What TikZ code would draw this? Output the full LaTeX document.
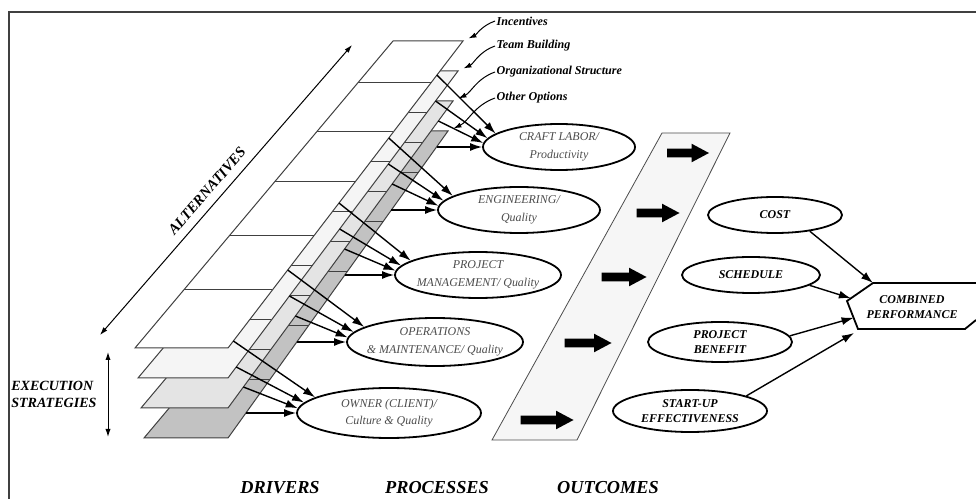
\documentclass[tikz,border=0pt]{standalone}
\usepackage{fontspec}
\setmainfont{Liberation Serif}
\usetikzlibrary{arrows.meta, calc, shapes.geometric, shapes.arrows}

\begin{document}
\begin{tikzpicture}[x=0.25mm, y=-0.25mm,
  driver/.style={ellipse, draw, line width=0.45mm, inner sep=0pt},
  drvtext/.style={align=center, text=black!70, inner sep=0pt, font=\fontsize{8.5}{12.5}\selectfont\itshape},
  outtext/.style={align=center, inner sep=0pt, font=\fontsize{8.5}{10.7}\selectfont\bfseries\itshape},
  tag/.style={font=\fontsize{8.6}{10}\selectfont\bfseries\itshape, inner sep=1pt},
  heading/.style={font=\fontsize{13}{15}\selectfont\bfseries\itshape},
  feed/.style={-{Latex[length=3mm,width=2mm]}, line width=0.35mm},
  point/.style={-{Latex[length=2mm,width=1.3mm]}, line width=0.25mm},
  bigarrow/.style={single arrow, fill=black, inner sep=1mm, single arrow head extend=1.25mm, single arrow tip angle=56}]
\useasboundingbox (0,0) rectangle (976,499);

% frame
\draw[line width=0.5mm, black!75] (9,499) -- (9,12) -- (976,12);

% execution strategy sheets, back to front
\foreach \k in {0,1,2,3} {
  \coordinate (tl\k) at ({393+3*\k},{41+30*\k});
  \coordinate (tr\k) at ({463-5*\k},{41+30*\k});
  \coordinate (br\k) at (228,{348+30*\k});
  \coordinate (bl\k) at ({135+3*\k},{348+30*\k});
}
\foreach \k/\col in {3/gray!48, 2/gray!21, 1/gray!8, 0/white} {
  \filldraw[fill=\col, draw=black!75, line width=0.25mm] (tl\k) -- (tr\k) -- (br\k) -- (bl\k) -- cycle;
  \foreach \t in {0.134,0.296,0.459,0.632,0.811}
    \draw[black!75, line width=0.25mm] ($(tl\k)!\t!(bl\k)$) -- ($(tr\k)!\t!(br\k)$);
}

% sheet labels
\node[tag, anchor=west] (inc) at (495,21) {Incentives};
\node[tag, anchor=west] (team) at (495,46) {Team Building};
\node[tag, anchor=west] (org) at (495,72) {Organizational Structure};
\node[tag, anchor=west] (oth) at (495,98) {Other Options};
\foreach \n/\k in {inc/0, team/1, org/2, oth/3}
  \draw[point, shorten >=1.5mm] (\n.west) to[out=200,in=25] (tr\k);

% alternatives
\coordinate (altlo) at (100,335);
\coordinate (althi) at (352,45);
\draw[{Latex[length=2mm,width=1.3mm]}-{Latex[length=2mm,width=1.3mm]}, line width=0.25mm] (altlo) -- (althi);
\node[rotate=49, font=\fontsize{10.5}{12}\selectfont\bfseries\itshape] (alt) at (207,191) {ALTERNATIVES};

% execution strategies
\coordinate (exhi) at (108,352);
\coordinate (exlo) at (108,437);
\draw[{Latex[length=2mm,width=1.3mm]}-{Latex[length=2mm,width=1.3mm]}, line width=0.25mm] (exhi) -- (exlo);
\node[anchor=west, align=left, inner sep=0pt, font=\fontsize{10}{12}\selectfont\bfseries\itshape] (exec) at (11,394) {EXECUTION\\STRATEGIES};

% drivers
\node[driver, minimum width=38mm, minimum height=11.5mm] (craft) at (559,147) {};
\node[drvtext] (craft-t) at (craft) {CRAFT LABOR/\\Productivity};
\node[driver, minimum width=40.5mm, minimum height=11.5mm] (eng) at (519,210) {};
\node[drvtext] (eng-t) at (eng) {ENGINEERING/\\Quality};
\node[driver, minimum width=41.5mm, minimum height=11.5mm] (pm) at (478,275) {};
\node[drvtext] (pm-t) at (pm) {PROJECT\\MANAGEMENT/ Quality};
\node[driver, minimum width=44mm, minimum height=12mm] (ops) at (435,342) {};
\node[drvtext] (ops-t) at (ops) {OPERATIONS\\\& MAINTENANCE/ Quality};
\node[driver, minimum width=46mm, minimum height=12.5mm] (own) at (389,413) {};
\node[drvtext] (own-t) at (own) {OWNER (CLIENT)/\\Culture \& Quality};

% arrows from each sheet to each driver
\foreach \d/\yc in {craft/147, eng/210, pm/275, ops/342, own/413}
  \foreach \k/\dy/\ang in {0/72/168, 1/46/173, 2/26/177, 3/0/180} {
    \pgfmathsetmacro\ys{\yc-\dy}
    \pgfmathsetmacro\xs{463-5*\k-(235-5*\k)/307*(\ys-41-30*\k)}
    \coordinate (s-\d-\k) at (\xs,\ys);
    \draw[feed] (s-\d-\k) -- (\d.\ang);
  }

% processes
\filldraw[fill=gray!7, draw=black!70, line width=0.2mm] (662,133) -- (730,133) -- (577,440) -- (492,440) -- cycle;
\foreach \n/\x/\y/\l in {1/684/153/42, 2/654/213/43, 3/620/277/45, 4/584/343/47, 5/543/420/53}
  \node[bigarrow, minimum height=\l*0.25mm] (pr\n) at (\x,\y) {};

% outcomes
\node[driver, minimum width=33.5mm, minimum height=9mm] (cost) at (775,215) {};
\node[outtext] (cost-t) at (cost) {COST};
\node[driver, minimum width=34.5mm, minimum height=9mm] (sched) at (751,275) {};
\node[outtext] (sched-t) at (sched) {SCHEDULE};
\node[driver, minimum width=36mm, minimum height=10mm] (benef) at (720,342) {};
\node[outtext] (benef-t) at (benef) {PROJECT\\BENEFIT};
\node[driver, minimum width=38.5mm, minimum height=10.5mm] (start) at (690,411) {};
\node[outtext] (start-t) at (start) {START-UP\\EFFECTIVENESS};

% combined performance
\coordinate (p1) at (976,283);
\coordinate (p2) at (873,283);
\coordinate (p3) at (847,301);
\coordinate (p4) at (858,329);
\coordinate (p5) at (965,329);
\coordinate (p6) at (976,320);
\draw[line width=0.45mm] (p1) -- (p2) -- (p3) -- (p4) -- (p5) -- (p6);
\node[outtext] (perf) at (912,307) {COMBINED\\PERFORMANCE};
\coordinate (in2) at ($(p2)!0.85!(p3)$);
\coordinate (in3) at ($(p3)!0.6!(p4)$);
\coordinate (in4) at (854,333);
\draw[feed] (cost.-25) -- (p2);
\draw[feed] (sched.-10) -- (in2);
\draw[feed] (benef.5) -- (in3);
\draw[feed] (start.15) -- (in4);

% column headings
\node[heading] (drv) at (280,488) {DRIVERS};
\node[heading] (proc) at (437,488) {PROCESSES};
\node[heading] (outc) at (608,488) {OUTCOMES};
\end{tikzpicture}
\end{document}
